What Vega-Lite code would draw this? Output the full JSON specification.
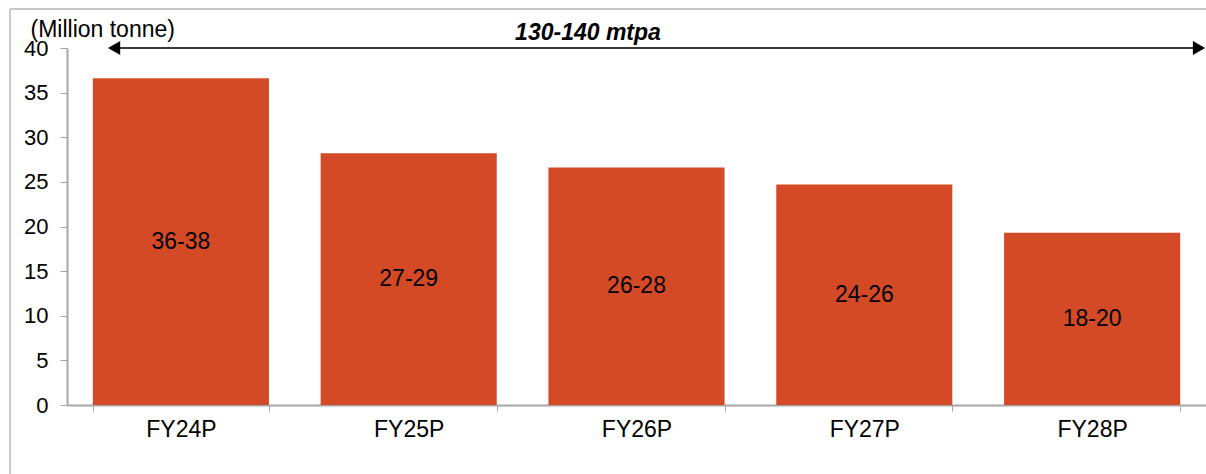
{
  "$schema": "https://vega.github.io/schema/vega-lite/v6.json",
  "width": 1139,
  "height": 357,
  "autosize": "none",
  "padding": {"left": 67, "top": 48, "right": 0, "bottom": 69},
  "background": "white",
  "config": {
    "view": {"stroke": null},
    "font": "Liberation Sans",
    "text": {"font": "Liberation Sans"}
  },
  "resolve": {"scale": {"x": "independent"}, "axis": {"x": "independent"}},
  "layer": [
    {
      "data": {
        "values": [
          {"year": "FY24P", "value": 36.6, "label": "36-38"},
          {"year": "FY25P", "value": 28.2, "label": "27-29"},
          {"year": "FY26P", "value": 26.6, "label": "26-28"},
          {"year": "FY27P", "value": 24.7, "label": "24-26"},
          {"year": "FY28P", "value": 19.3, "label": "18-20"}
        ]
      },
      "layer": [
        {
          "mark": {"type": "bar", "color": "#D54A26"},
          "encoding": {
            "x": {
              "field": "year",
              "type": "nominal",
              "sort": null,
              "scale": {"paddingInner": 0.227, "paddingOuter": 0.1135},
              "axis": {
                "title": null,
                "labelAngle": 0,
                "labelFontSize": 23,
                "labelColor": "#000000",
                "labelPadding": 7,
                "tickBand": "extent",
                "tickSize": 6,
                "tickColor": "#a6a6a6",
                "domainColor": "#a6a6a6",
                "domainWidth": 2,
                "grid": false
              }
            },
            "y": {
              "field": "value",
              "type": "quantitative",
              "scale": {"domain": [0, 40], "nice": false},
              "axis": {
                "title": "(Million tonne)",
                "titleAngle": 0,
                "titleAlign": "left",
                "titleBaseline": "alphabetic",
                "titleX": -37,
                "titleY": -12,
                "titleFontSize": 23,
                "titleFontWeight": "normal",
                "titleColor": "#000000",
                "values": [0, 5, 10, 15, 20, 25, 30, 35, 40],
                "labelFontSize": 22,
                "labelColor": "#000000",
                "labelPadding": 12,
                "tickSize": 7,
                "tickColor": "#a6a6a6",
                "domainColor": "#a6a6a6",
                "domainWidth": 2,
                "grid": false
              }
            }
          }
        },
        {
          "mark": {"type": "text", "fontSize": 23, "color": "#000000", "baseline": "middle"},
          "encoding": {
            "x": {"field": "year", "type": "nominal", "sort": null},
            "y": {"field": "value", "type": "quantitative", "stack": "zero", "bandPosition": 0.5},
            "text": {"field": "label"}
          }
        }
      ]
    },
    {
      "data": {"values": [{}]},
      "layer": [
        {
          "mark": {"type": "rule", "color": "#c8c8c8", "strokeWidth": 2},
          "encoding": {
            "x": {"datum": -0.25, "type": "quantitative", "scale": {"domain": [0, 5], "nice": false, "zero": false}, "axis": null},
            "x2": {"datum": 5.5},
            "y": {"datum": 44.37, "type": "quantitative", "scale": {"domain": [0, 40], "nice": false}}
          }
        },
        {
          "mark": {"type": "rule", "color": "#c8c8c8", "strokeWidth": 2},
          "encoding": {
            "x": {"datum": -0.25, "type": "quantitative"},
            "y": {"datum": 44.37, "type": "quantitative"},
            "y2": {"datum": -9}
          }
        },
        {
          "mark": {"type": "rule", "color": "#3a3a3a", "strokeWidth": 2},
          "encoding": {
            "x": {"datum": 0.2, "type": "quantitative"},
            "x2": {"datum": 4.98},
            "y": {"datum": 40, "type": "quantitative"}
          }
        },
        {
          "mark": {"type": "point", "shape": "triangle-left", "filled": true, "color": "#000000", "size": 200, "opacity": 1, "xOffset": 7},
          "encoding": {
            "x": {"datum": 0.176, "type": "quantitative"},
            "y": {"datum": 40, "type": "quantitative"}
          }
        },
        {
          "mark": {"type": "point", "shape": "triangle-right", "filled": true, "color": "#000000", "size": 200, "opacity": 1, "xOffset": -7},
          "encoding": {
            "x": {"datum": 5, "type": "quantitative"},
            "y": {"datum": 40, "type": "quantitative"}
          }
        },
        {
          "mark": {"type": "text", "text": "130-140 mtpa", "fontSize": 23, "fontWeight": "bold", "fontStyle": "italic", "color": "#000000", "baseline": "alphabetic", "dy": -8},
          "encoding": {
            "x": {"datum": 2.287, "type": "quantitative"},
            "y": {"datum": 40, "type": "quantitative"}
          }
        }
      ]
    }
  ]
}
